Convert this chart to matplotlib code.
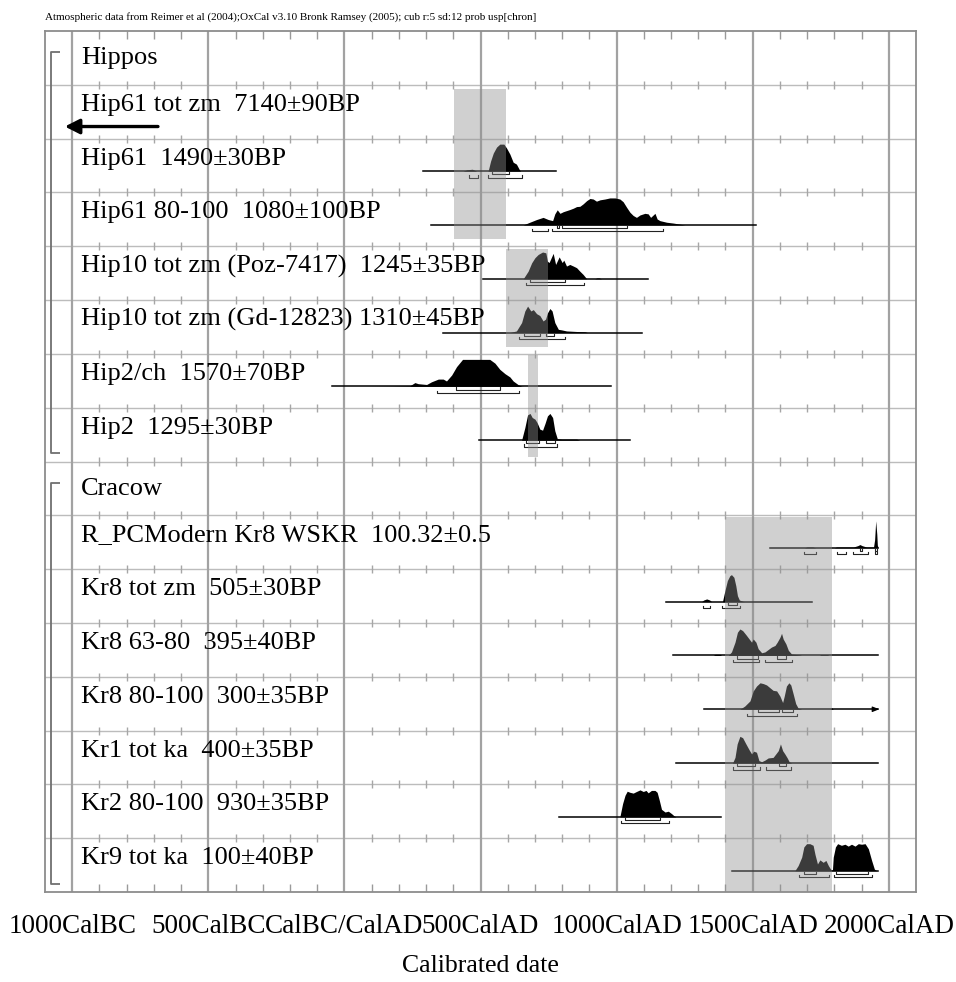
import matplotlib
matplotlib.use("Agg")
import matplotlib.pyplot as plt
from matplotlib.patches import Rectangle

plt.rcParams["font.family"] = ["Liberation Serif", "DejaVu Serif"]

# one entry per plot row, top to bottom
ROW_LABELS = [
    "Hippos",
    "Hip61 tot zm  7140\u00b190BP",
    "Hip61  1490\u00b130BP",
    "Hip61 80-100  1080\u00b1100BP",
    "Hip10 tot zm (Poz-7417)  1245\u00b135BP",
    "Hip10 tot zm (Gd-12823) 1310\u00b145BP",
    "Hip2/ch  1570\u00b170BP",
    "Hip2  1295\u00b130BP",
    "Cracow",
    "R_PCModern Kr8 WSKR  100.32\u00b10.5",
    "Kr8 tot zm  505\u00b130BP",
    "Kr8 63-80  395\u00b140BP",
    "Kr8 80-100  300\u00b135BP",
    "Kr1 tot ka  400\u00b135BP",
    "Kr2 80-100  930\u00b135BP",
    "Kr9 tot ka  100\u00b140BP",
]
HEADER_ROWS = [0, 8]
GROUP_FIRST = [0, 8]
GROUP_LAST = [7, 15]

MAJOR_YEARS = [-1000, -500, 0, 500, 1000, 1500, 2000]
MAJOR_LABELS = ["1000CalBC", "500CalBC", "CalBC/CalAD", "500CalAD",
                "1000CalAD", "1500CalAD", "2000CalAD"]

# calibrated probability distributions (year AD, relative probability)
HIP61_1490_YR = [436, 450, 470, 486, 528, 537, 547, 559, 571, 586, 596, 608, 620, 632, 642, 647]
HIP61_1490_P = [0, .05, .07, 0, 0, .37, .67, .89, 1.0, 1.0, .85, .63, .33, .26, .07, 0]

HIP61_1080_YR = [657, 681, 706, 730, 749, 765, 773, 782, 792, 804, 816, 828, 841, 853,
                 865, 877, 890, 902, 914, 926, 939, 957, 975, 994, 1012, 1024, 1037, 1049,
                 1061, 1073, 1086, 1104, 1116, 1125, 1141, 1149, 1159, 1184, 1208, 1226, 1251]
HIP61_1080_P = [0, .10, .20, .28, .20, .16, .41, .56, .43, .49, .53, .57, .62, .68,
                .69, .78, .90, .98, .96, .88, .93, .96, 1.0, 1.0, .96, .86, .65, .47,
                .35, .28, .37, .43, .41, .28, .43, .22, .16, .10, .07, .04, 0]

HIP10_POZ_YR = [657, 675, 688, 700, 712, 728, 740, 746, 752, 767, 776, 789, 800, 806,
                816, 828, 841, 853, 865, 877, 890, 920, 928, 936, 944]
HIP10_POZ_P = [0, .28, .59, .78, .90, .99, .96, .65, .60, .94, .53, .81, .60, .69,
               .47, .53, .47, .41, .28, .16, 0, 0, .03, .03, 0]

HIP10_GD_YR = [608, 632, 651, 663, 673, 685, 694, 706, 718, 730, 739, 746, 755, 763,
               773, 786, 798, 816, 853, 884, 893]
HIP10_GD_P = [0, .06, .37, .80, .98, .80, .85, .70, .63, .43, .50, .73, .89, .80,
              .37, .12, .10, .06, .04, .03, 0]

HIP2CH_YR = [75, 180, 240, 259, 271, 302, 320, 345, 363, 375, 394, 412, 434, 534, 553,
             571, 590, 608, 620, 639, 651, 660]
HIP2CH_P = [0, .01, .02, .14, .10, .07, .17, .27, .27, .20, .42, .73, 1.0, 1.0, .86,
            .63, .47, .35, .20, .06, .01, 0]

HIP2_YR = [651, 663, 673, 682, 690, 700, 708, 718, 728, 737, 746, 755, 765, 773, 782,
           798, 816, 853, 865]
HIP2_P = [0, .47, .94, .99, .84, .78, .65, .41, .37, .62, .90, .99, .84, .35, .06,
          .04, .04, .04, 0]

RPC_YR = [1690, 1700, 1720, 1732, 1800, 1808, 1840, 1870, 1886, 1894, 1902, 1918, 1944,
          1948, 1952, 1956, 1958, 1961]
RPC_P = [0, .03, .03, 0, 0, .03, .03, .03, .08, .12, .08, .03, .03, .3, 1.0, .5, .1, 0]

KR8_TOT_YR = [1312, 1320, 1331, 1342, 1349, 1389, 1398, 1407, 1416, 1422, 1431, 1438,
              1444, 1451, 1465, 1470]
KR8_TOT_P = [0, .06, .10, .06, 0, 0, .41, .78, .96, 1.0, .90, .59, .22, .06, .01, 0]

KR8_63_YR = [1355, 1362, 1380, 1386, 1410, 1422, 1435, 1444, 1453, 1463, 1475, 1487,
             1496, 1502, 1512, 1520, 1533, 1545, 1557, 1569, 1582, 1590, 1600, 1606,
             1612, 1622, 1631, 1643, 1673, 1680, 1745, 1750, 1775, 1780]
KR8_63_P = [0, .04, .04, 0, 0, .13, .49, .86, .98, .92, .77, .61, .49, .61, .49, .25,
            .10, .13, .22, .31, .37, .49, .67, .82, .61, .43, .19, .05, .02, 0, 0, .03,
            .03, 0]

KR8_80_YR = [1453, 1471, 1490, 1502, 1514, 1527, 1539, 1551, 1563, 1575, 1588, 1600,
             1610, 1616, 1624, 1633, 1640, 1649, 1658, 1667, 1680, 1784, 1790, 1796]
KR8_80_P = [0, .12, .31, .68, .86, .98, .95, .90, .80, .70, .68, .49, .25, .49, .86,
            .98, .90, .56, .21, .04, 0, 0, .06, 0]

KR1_YR = [1426, 1435, 1443, 1453, 1463, 1475, 1487, 1496, 1504, 1514, 1523, 1533, 1545,
          1557, 1575, 1585, 1594, 1602, 1610, 1618, 1627, 1634, 1643]
KR1_P = [0, .21, .71, .99, .94, .71, .49, .34, .44, .40, .09, .05, .11, .19, .21, .34,
         .46, .71, .46, .34, .19, .05, 0]

KR2_YR = [1012, 1022, 1031, 1039, 1049, 1061, 1073, 1086, 1098, 1108, 1116, 1128, 1141,
          1149, 1157, 1165, 1178, 1190, 1202, 1211, 1218]
KR2_P = [0, .49, .80, .95, .91, .88, .94, 1.0, .94, .98, .89, .98, .98, .91, .61, .28,
         .18, .21, .12, .04, 0]

KR9_YR = [1655, 1667, 1680, 1688, 1698, 1710, 1722, 1729, 1738, 1747, 1759, 1769, 1778,
          1786, 1793, 1796, 1804, 1812, 1826, 1839, 1851, 1863, 1876, 1888, 1900, 1913,
          1925, 1937, 1947, 1955]
KR9_P = [0, .19, .50, .88, 1.0, 1.0, .94, .60, .25, .40, .31, .38, .19, .06, .02, .50,
         .88, 1.0, .94, .98, .91, .98, .91, 1.0, .98, 1.0, .81, .38, .06, 0]

# row -> (years, probs, calibration range, 68.2% ranges, 95.4% ranges)
DISTS = {
    2: (HIP61_1490_YR, HIP61_1490_P, (290, 776), [(543, 606)], [(459, 492), (528, 651)]),
    3: (HIP61_1080_YR, HIP61_1080_P, (318, 1514), [(780, 790), (800, 1040)],
        [(690, 749), (761, 1171)]),
    4: (HIP10_POZ_YR, HIP10_POZ_P, (510, 1114), [(681, 812)], [(667, 881)]),
    5: (HIP10_GD_YR, HIP10_GD_P, (363, 1092), [(659, 718), (739, 771)], [(641, 812)]),
    6: (HIP2CH_YR, HIP2CH_P, (-45, 979), [(410, 571)], [(341, 641)]),
    7: (HIP2_YR, HIP2_P, (494, 1051), [(669, 716), (739, 773)], [(659, 782)]),
    9: (RPC_YR, RPC_P, (1563, 1961), [(1896, 1903), (1951, 1955)],
        [(1689, 1731), (1808, 1842), (1869, 1922), (1949, 1957)]),
    10: (KR8_TOT_YR, KR8_TOT_P, (1181, 1719), [(1408, 1443)], [(1318, 1343), (1386, 1453)]),
    11: (KR8_63_YR, KR8_63_P, (1208, 1961), [(1441, 1520), (1590, 1621)],
         [(1428, 1524), (1547, 1643)]),
    12: (KR8_80_YR, KR8_80_P, (1322, 1961), [(1520, 1597), (1608, 1649)], [(1480, 1661)]),
    13: (KR1_YR, KR1_P, (1218, 1961), [(1441, 1508), (1597, 1621)],
         [(1428, 1526), (1548, 1640)]),
    14: (KR2_YR, KR2_P, (788, 1382), [(1030, 1161)], [(1018, 1192)]),
    15: (KR9_YR, KR9_P, (1425, 1959), [(1689, 1731), (1806, 1922)],
         [(1671, 1781), (1799, 1939)]),
}

# shaded periods: start/end year and the rows they cover
SHADE_START = [402, 592, 675, 1398]
SHADE_END = [593, 747, 713, 1790]
SHADE_TOP = [1.08, 4.06, 6.02, 9.04]
SHADE_BOTTOM = [3.87, 5.88, 7.91, 16.0]

OFFSCALE_ROW = 1      # date beyond the left edge of the plot
ARROW_RIGHT_ROW = 12  # range runs past the right end

N_ROWS = len(ROW_LABELS)
ROW_PX = 53.8
BASE = 32.5 / ROW_PX
PEAK = 27.0 / ROW_PX
OFF68 = 3.2 / ROW_PX
OFF95 = 6.5 / ROW_PX
TICK = 2.2 / ROW_PX

W, H = 956, 982
fig = plt.figure(figsize=(W / 100, H / 100), dpi=100)
ax = fig.add_axes([45 / W, 1 - 892 / H, (916 - 45) / W, (892 - 31) / H])
ax.set_xlim(-1100, 2100)
ax.set_ylim(N_ROWS, 0)
ax.set_yticks([])
for sp in ax.spines.values():
    sp.set_color("#8c8c8c")
    sp.set_linewidth(1.3)

# grid: row separators, major year lines, minor ticks on every row line
grid_c = "#bcbcbc"
for r in range(1, N_ROWS):
    ax.axhline(r, color=grid_c, lw=1.0, zorder=1)
for yr in MAJOR_YEARS:
    ax.axvline(yr, color="#a2a2a2", lw=1.6, zorder=1)
minor = [y for y in range(-1000, 2001, 100) if y % 500]
ax.vlines(minor, 0, 8 / ROW_PX, color="#9a9a9a", lw=1.0, zorder=1)
ax.vlines(minor, N_ROWS - 8 / ROW_PX, N_ROWS, color="#9a9a9a", lw=1.0, zorder=1)
for r in range(1, N_ROWS):
    ax.vlines(minor, r - 4 / ROW_PX, r + 4 / ROW_PX, color="#a6a6a6", lw=1.0, zorder=1)

# row labels
for r, lab in enumerate(ROW_LABELS):
    dy = 33 / ROW_PX if r in HEADER_ROWS else 26 / ROW_PX
    ax.text(-968, r + dy, lab, fontsize=19, ha="left", va="baseline", zorder=5)

# group brackets
for a, b in zip(GROUP_FIRST, GROUP_LAST):
    y0 = a + 21 / ROW_PX
    y1 = b + 1 - 8 / ROW_PX
    ax.plot([-1045, -1079, -1079, -1045], [y0, y0, y1, y1], color="#707070", lw=1.3,
            zorder=3, solid_capstyle="butt")


def bracket(x0, x1, y):
    ax.plot([x0, x0, x1, x1], [y - TICK, y, y, y - TICK], color="#222222", lw=0.8, zorder=3)


for r, (yrs, ps, rng, r68, r95) in DISTS.items():
    base = r + BASE
    ys = [base - p * PEAK for p in ps]
    ax.fill_between(yrs, base, ys, color="black", lw=0, zorder=2)
    ax.plot(rng, [base, base], color="black", lw=1.1, zorder=3)
    for x0, x1 in r68:
        bracket(x0, x1, base + OFF68)
    for x0, x1 in r95:
        bracket(x0, x1, base + OFF95)

# arrows
ay = OFFSCALE_ROW + 41.7 / ROW_PX
ax.annotate("", xy=(-1027, ay), xytext=(-685, ay),
            arrowprops=dict(arrowstyle="-|>,head_length=0.55,head_width=0.28", lw=2.4,
                            color="black", mutation_scale=16, shrinkA=0, shrinkB=0),
            zorder=4)
rb = ARROW_RIGHT_ROW + BASE
end = DISTS[ARROW_RIGHT_ROW][2][1]
ax.annotate("", xy=(end + 4, rb), xytext=(end - 20, rb),
            arrowprops=dict(arrowstyle="-|>,head_length=0.5,head_width=0.2", lw=0.8,
                            color="black", mutation_scale=8, shrinkA=0, shrinkB=0),
            zorder=4)

# shaded periods drawn over the distributions
for x0, x1, t, b in zip(SHADE_START, SHADE_END, SHADE_TOP, SHADE_BOTTOM):
    ax.add_patch(Rectangle((x0, t), x1 - x0, b - t, facecolor=(0.56, 0.56, 0.56),
                           alpha=0.42, lw=0, zorder=4))

ax.set_xticks(MAJOR_YEARS, MAJOR_LABELS, fontsize=19.5)
ax.tick_params(axis="x", length=0, pad=16)

fig.text(45 / W, 1 - 19.5 / H,
         "Atmospheric data from Reimer et al (2004);OxCal v3.10 Bronk Ramsey (2005); "
         "cub r:5 sd:12 prob usp[chron]",
         fontsize=8, ha="left", va="baseline")
fig.text(480 / W, 1 - 966 / H, "Calibrated date", fontsize=18.5, ha="center", va="center")

fig.savefig("out.png", dpi=100)
